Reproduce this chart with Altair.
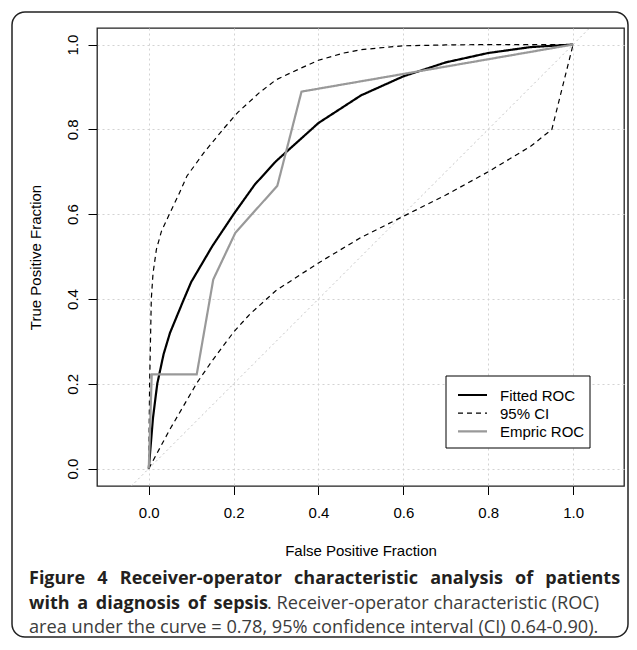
import altair as alt
import pandas as pd

# ---- data ----
fit_fpf = [0.0, 0.0025, 0.01, 0.02, 0.035, 0.05, 0.083, 0.1, 0.15, 0.2, 0.25, 0.3, 0.4, 0.5, 0.6, 0.7, 0.8, 0.9, 1.0]
fit_tpf = [0.0, 0.03, 0.12, 0.20, 0.27, 0.32, 0.40, 0.44, 0.525, 0.60, 0.67, 0.725, 0.815, 0.88, 0.925, 0.958, 0.98, 0.994, 1.0]

ciu_fpf = [0.0, 0.002, 0.006, 0.01, 0.018, 0.03, 0.05, 0.07, 0.09, 0.13, 0.175, 0.21, 0.26, 0.3, 0.36, 0.4, 0.46, 0.5, 0.6, 0.7, 0.8, 1.0]
ciu_tpf = [0.0, 0.20, 0.40, 0.46, 0.517, 0.56, 0.603, 0.645, 0.69, 0.745, 0.80, 0.84, 0.886, 0.917, 0.945, 0.963, 0.98, 0.988, 0.997, 0.999, 1.0, 1.0]

cil_fpf = [0.0, 0.05, 0.114, 0.15, 0.2, 0.238, 0.3, 0.4, 0.5, 0.6, 0.7, 0.8, 0.9, 0.95, 1.0]
cil_tpf = [0.0, 0.093, 0.203, 0.255, 0.322, 0.364, 0.42, 0.485, 0.545, 0.595, 0.645, 0.70, 0.76, 0.80, 1.0]

emp_fpf = [0.0, 0.007, 0.113, 0.152, 0.204, 0.303, 0.36, 1.0]
emp_tpf = [0.0, 0.222, 0.222, 0.446, 0.556, 0.667, 0.889, 1.0]

series_names = ["Fitted ROC", "95% CI", "Empric ROC"]
series_colors = ["#000000", "#000000", "#999999"]
series_dash = [[1, 0], [5, 4], [1, 0]]
series_width = [2.2, 1.2, 2.2]

tick_vals = [0.0, 0.2, 0.4, 0.6, 0.8, 1.0]
diag_vals = [-0.3, 1.3]

x_title = "False Positive Fraction"
y_title = "True Positive Fraction"

SP1 = " \u2005\u2006"   # widened word space (justified line)
SP2 = " \u2006"
cap_l1 = SP1.join("Figure 4 Receiver-operator characteristic analysis of patients".split(" "))
cap_l2a = SP2.join("with a diagnosis of sepsis".split(" "))
cap_l2b = ". Receiver-operator characteristic (ROC)"
cap_l3 = "area under the curve = 0.78, 95% confidence interval (CI) 0.64-0.90)."

# ---- build table ----
rows = []
def add(name, part, xs, ys):
    for i, (a, b) in enumerate(zip(xs, ys)):
        rows.append({"series": name, "part": part, "fpf": a, "tpf": b, "idx": i})

add("Fitted ROC", "fit", fit_fpf, fit_tpf)
add("95% CI", "ci_up", ciu_fpf, ciu_tpf)
add("95% CI", "ci_lo", cil_fpf, cil_tpf)
add("Empric ROC", "emp", emp_fpf, emp_tpf)
df = pd.DataFrame(rows)

diag_df = pd.DataFrame({"fpf": diag_vals, "tpf": diag_vals})

xscale = alt.Scale(domain=[-0.122, 1.12], nice=False, zero=False)
yscale = alt.Scale(domain=[-0.041, 1.039], nice=False, zero=False)

FONT = "Liberation Sans"

xaxis = alt.Axis(values=tick_vals, format=".1f", grid=True, gridColor="#d3d3d3",
                 gridDash=[2, 3], gridWidth=1, domain=False, tickSize=8.5,
                 tickColor="#000", labelColor="#000", labelFont=FONT, labelFontSize=15,
                 labelPadding=11, labelBaseline="top",
                 title=x_title, titleFont=FONT, titleFontSize=15, titleFontWeight="normal",
                 titleColor="#000", titleX=263.5, titleY=64, titleBaseline="middle")
yaxis = alt.Axis(values=tick_vals, format=".1f", grid=True, gridColor="#d3d3d3",
                 gridDash=[2, 3], gridWidth=1, domain=False, tickSize=9,
                 tickColor="#000", labelColor="#000", labelFont=FONT, labelFontSize=15,
                 labelAngle=270, labelAlign="center", labelBaseline="alphabetic", labelPadding=11,
                 title=y_title, titleFont=FONT, titleFontSize=15, titleFontWeight="normal",
                 titleColor="#000", titleX=-62, titleY=229, titleAngle=270,
                 titleBaseline="middle", titleAlign="center")

diag = alt.Chart(diag_df).mark_line(clip=True, color="#c4c4c4", strokeDash=[2, 3],
                                    strokeWidth=1).encode(
    x=alt.X("fpf:Q", scale=xscale, axis=xaxis),
    y=alt.Y("tpf:Q", scale=yscale, axis=yaxis),
)

lines = alt.Chart(df).mark_line(clip=True).encode(
    x=alt.X("fpf:Q", scale=xscale, axis=xaxis),
    y=alt.Y("tpf:Q", scale=yscale, axis=yaxis),
    color=alt.Color("series:N", scale=alt.Scale(domain=series_names, range=series_colors), legend=None),
    strokeDash=alt.StrokeDash("series:N", scale=alt.Scale(domain=series_names, range=series_dash), legend=None),
    strokeWidth=alt.StrokeWidth("series:N", scale=alt.Scale(type="ordinal", domain=series_names, range=series_width), legend=None),
    detail="part:N",
    order="idx:Q",
)

# ---- legend drawn as a box with samples (positions relative to plot origin) ----
one = pd.DataFrame({"k": [0]})
leg_box = alt.Chart(one).mark_rect(fill="white", stroke="#000", strokeWidth=1).encode(
    x=alt.value(349), x2=alt.value(493), y=alt.value(348), y2=alt.value(420))
leg_layers = [leg_box]
for i, name in enumerate(series_names):
    yy = 367 + 18.2 * i
    sdf = pd.DataFrame({"series": [name]})
    leg_layers.append(alt.Chart(sdf).mark_rule(
        color=series_colors[i], strokeDash=series_dash[i], strokeWidth=series_width[i]).encode(
        x=alt.value(361), x2=alt.value(390), y=alt.value(yy)))
    leg_layers.append(alt.Chart(sdf).mark_text(
        align="left", baseline="middle", font=FONT, fontSize=15, color="#000").encode(
        text="series:N", x=alt.value(403), y=alt.value(yy + 0.5)))

# ---- caption and outer frame (positions relative to plot origin) ----
box = alt.Chart(one).mark_rect(fillOpacity=0, stroke="#222", strokeWidth=1.5, cornerRadius=13).encode(
    x=alt.value(-85), x2=alt.value(531), y=alt.value(-16), y2=alt.value(609))

CAPFONT = "Open Sans"
def cap(text, x, y, bold, color, size):
    return alt.Chart(pd.DataFrame({"t": [text]})).mark_text(
        align="left", baseline="alphabetic", font=CAPFONT, fontSize=size,
        fontWeight="bold" if bold else "normal", color=color).encode(
        text="t:N", x=alt.value(x), y=alt.value(y))

c1 = cap(cap_l1, -68, 556, True, "#231f20", 18)
c2a = cap(cap_l2a, -68, 580.5, True, "#231f20", 18)
c2b = cap(cap_l2b, 170, 580.5, False, "#3c3c3c", 18.2)
c3 = cap(cap_l3, -68, 605, False, "#3c3c3c", 18.2)

chart = alt.layer(box, diag, lines, *leg_layers, c1, c2a, c2b, c3).properties(
    width=527, height=458,
    padding={"left": 89, "top": 20, "right": 5, "bottom": 152},
    autosize=alt.AutoSizeParams(type="none"),
    background="white",
).configure_view(stroke="#222", strokeWidth=1.3)

chart.save("out.html", embed_options={"renderer": "svg", "actions": False})
